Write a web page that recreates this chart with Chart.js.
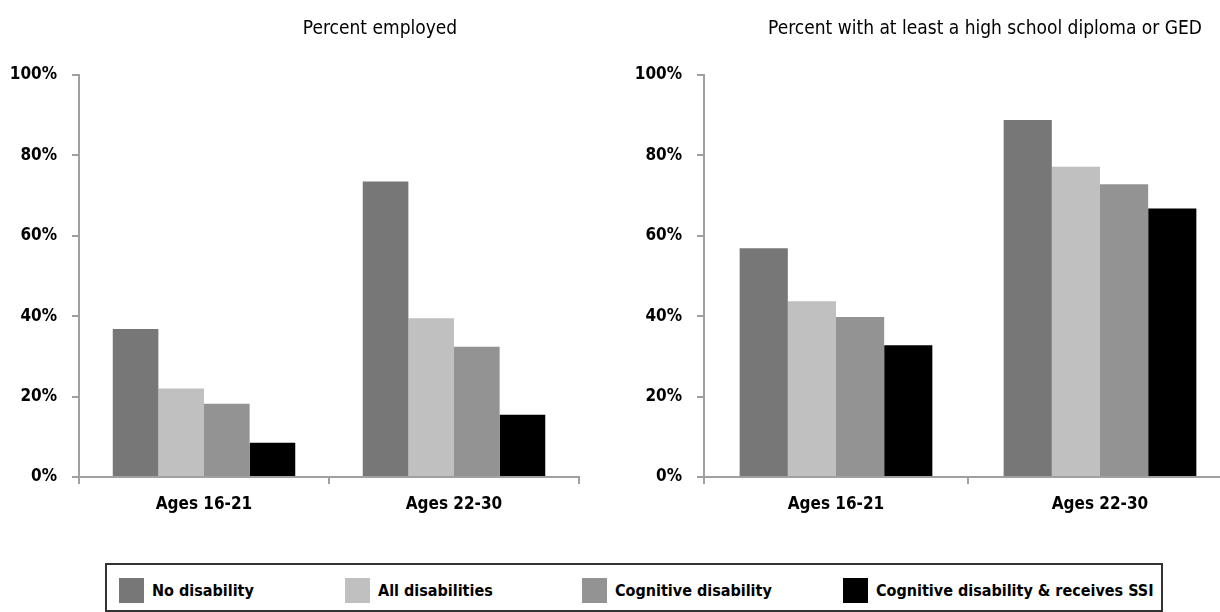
<!DOCTYPE html>
<html>
<head>
<meta charset="utf-8">
<script src="https://cdn.jsdelivr.net/npm/chart.js@4/dist/chart.umd.min.js"></script>
<style>
  html, body { margin: 0; padding: 0; background: #fff; }
  body { width: 1220px; height: 612px; position: relative; overflow: hidden;
         font-family: "DejaVu Sans Condensed", sans-serif; }
  .panel { position: absolute; top: 0; height: 530px; }
  .title { position: absolute; top: 16px; font-size: 19px; color: #000; white-space: nowrap;
           transform: translateX(-50%); }
  #legend { position: absolute; left: 105px; top: 563px; width: 1058px; height: 49px;
            border: 2px solid #333; box-sizing: border-box; }
  .item { position: absolute; top: 13px; font-weight: bold; font-size: 16px; line-height: 25px; }
  .sw { position: absolute; left: 0; top: 0; width: 25px; height: 25px; }
  .item span { position: absolute; top: 0; white-space: nowrap; }
</style>
</head>
<body>
<div class="panel" style="left:0;width:610px"><canvas id="left"></canvas></div>
<div class="panel" style="left:610px;width:622px"><canvas id="right"></canvas></div>
<div class="title" id="t1" style="left:380px"></div>
<div class="title" id="t2" style="left:985px"></div>
<div id="legend"></div>
<script>
const categories = ["Ages 16-21", "Ages 22-30"];
const seriesNames = ["No disability", "All disabilities", "Cognitive disability", "Cognitive disability & receives SSI"];
const seriesColors = ["#777777", "#c0c0c0", "#939393", "#000000"];
const titles = ["Percent employed", "Percent with at least a high school diploma or GED"];

// percent employed, by series: [16-21, 22-30]
const employedNoDis = [36.8, 73.5];
const employedAllDis = [22, 39.5];
const employedCog = [18.2, 32.4];
const employedCogSSI = [8.5, 15.5];

// percent with at least high school diploma or GED
const diplomaNoDis = [56.9, 88.8];
const diplomaAllDis = [43.7, 77.2];
const diplomaCog = [39.8, 72.8];
const diplomaCogSSI = [32.8, 66.8];

const yTicks = [0, 20, 40, 60, 80, 100];

const FONT = "'DejaVu Sans Condensed', sans-serif";
const AXIS = "#a0a0a0";

function makeChart(id, w, values, axisWidth, padRight) {
  const c = document.getElementById(id);
  c.width = w; c.height = 530;
  c.style.width = w + "px"; c.style.height = "530px";
  return new Chart(c, {
    type: "bar",
    data: {
      labels: categories,
      datasets: values.map((v, i) => ({
        label: seriesNames[i], data: v, backgroundColor: seriesColors[i],
        borderWidth: 0, barPercentage: 1, categoryPercentage: 0.73,
      })),
    },
    options: {
      responsive: false, animation: false, devicePixelRatio: 1,
      layout: { padding: { top: 75, right: padRight, bottom: 0, left: 0 } },
      plugins: { legend: { display: false }, tooltip: { enabled: false }, title: { display: false } },
      scales: {
        x: {
          grid: { display: true, drawOnChartArea: false, color: AXIS, tickLength: 7, offset: true, lineWidth: 2 },
          border: { color: AXIS, width: 2 },
          ticks: { color: "#000", padding: 10, font: { family: FONT, size: 17, weight: "bold" } },
          afterFit: (s) => { s.height = 53; },
        },
        y: {
          min: 0, max: 100,
          afterBuildTicks: (s) => { s.ticks = yTicks.map(v => ({ value: v })); },
          grid: { display: true, drawOnChartArea: false, color: AXIS, tickLength: 7, lineWidth: 2 },
          border: { color: AXIS, width: 2 },
          ticks: { color: "#000", padding: 15, callback: (v) => v + "%",
                   font: { family: FONT, size: 17, weight: "bold" } },
          afterFit: (s) => { s.width = axisWidth; },
        },
      },
    },
  });
}

makeChart("left", 610, [employedNoDis, employedAllDis, employedCog, employedCogSSI], 79, 31);
makeChart("right", 622, [diplomaNoDis, diplomaAllDis, diplomaCog, diplomaCogSSI], 94, 0);

document.getElementById("t1").textContent = titles[0];
document.getElementById("t2").textContent = titles[1];

// legend
const legendX = [12, 238, 475, 736];
const legend = document.getElementById("legend");
seriesNames.forEach((name, i) => {
  const it = document.createElement("div");
  it.className = "item";
  it.style.left = legendX[i] + "px";
  it.innerHTML = `<div class="sw" style="background:${seriesColors[i]}"></div><span style="left:33px"></span>`;
  it.querySelector("span").textContent = name;
  legend.appendChild(it);
});
</script>
</body>
</html>
